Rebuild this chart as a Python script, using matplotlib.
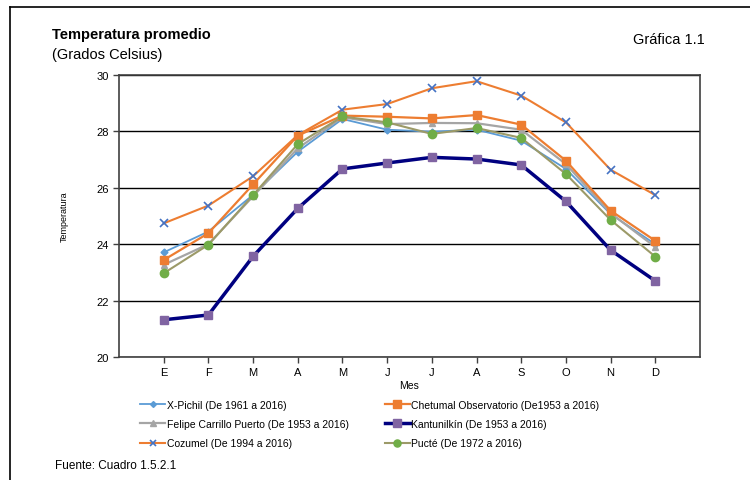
import numpy as np
import matplotlib.pyplot as plt
from matplotlib.lines import Line2D

plt.rcParams['font.family'] = ['Liberation Sans', 'DejaVu Sans']

meses = ['E', 'F', 'M', 'A', 'M', 'J', 'J', 'A', 'S', 'O', 'N', 'D']

x_pichil = [23.71, 24.45, 25.75, 27.28, 28.44, 28.06, 27.99, 28.06, 27.67, 26.67, 25.07, 24.0]
chetumal = [23.44, 24.39, 26.12, 27.85, 28.56, 28.52, 28.46, 28.58, 28.24, 26.96, 25.19, 24.12]
felipe = [23.27, 24.0, 25.7, 27.4, 28.5, 28.26, 28.30, 28.29, 28.06, 26.84, 25.1, 23.9]
kantunilkin = [21.32, 21.49, 23.57, 25.27, 26.67, 26.88, 27.08, 27.02, 26.81, 25.52, 23.79, 22.70]
cozumel = [24.74, 25.37, 26.41, 27.87, 28.77, 28.97, 29.53, 29.78, 29.27, 28.32, 26.64, 25.74]
pucte = [22.97, 23.98, 25.74, 27.55, 28.53, 28.32, 27.91, 28.12, 27.77, 26.49, 24.86, 23.56]

x = np.arange(1, 13)

fig = plt.figure(figsize=(7.5, 4.81), dpi=100)
ax = fig.add_axes([0.1587, 0.2557, 0.7746, 0.5863])

ax.plot(x, x_pichil, color='#5B9BD5', lw=1.3, marker='D', ms=3.5,
        label='X-Pichil (De 1961 a 2016)')
ax.plot(x, felipe, color='#A5A5A5', lw=1.6, marker='^', ms=5,
        label='Felipe Carrillo Puerto (De 1953 a 2016)')
ax.plot(x, cozumel, color='#ED7D31', lw=1.5, marker='x', ms=5.5, mew=1.2,
        mec='#4472C4', label='Cozumel (De 1994 a 2016)')
ax.plot(x, chetumal, color='#ED7D31', lw=1.6, marker='s', ms=6,
        label='Chetumal Observatorio (De1953 a 2016)')
ax.plot(x, kantunilkin, color='#000080', lw=2.5, marker='s', ms=6,
        mfc='#8064A2', mec='#8064A2', label='Kantunilkín (De 1953 a 2016)')
ax.plot(x, pucte, color='#9C9A68', lw=1.5, marker='o', ms=6,
        mfc='#70AD47', mec='#70AD47', label='Pucté (De 1972 a 2016)')

ax.set_xlim(0, 13)
ax.set_ylim(20, 30)
ax.set_xticks(x)
ax.set_xticklabels(meses)
ax.set_yticks(np.arange(20, 31, 2))
ax.tick_params(labelsize=8, length=4, width=1, color='#404040')
ax.yaxis.grid(True, color='black', lw=1)
ax.set_axisbelow(True)
for s in ax.spines.values():
    s.set_color('#404040')
    s.set_linewidth(1.2)

ax.set_xlabel('Mes', fontsize=7.5, labelpad=2)
ax.set_ylabel('Temperatura', fontsize=6.5, labelpad=20)

fig.text(0.069, 0.927, 'Temperatura promedio', fontsize=10.5,
         fontweight='bold', va='center')
fig.text(0.069, 0.886, '(Grados Celsius)', fontsize=10.5, va='center')
fig.text(0.844, 0.917, 'Gráfica 1.1', fontsize=10.5, va='center')
fig.text(0.073, 0.031, 'Fuente: Cuadro 1.5.2.1', fontsize=8.5, va='center')

leg = fig.legend(loc='upper left', bbox_to_anchor=(0.18, 0.178), ncol=2,
                 fontsize=7.5, frameon=False, handlelength=2.4,
                 handletextpad=0.15, columnspacing=3.45, labelspacing=0.9,
                 borderpad=0, markerscale=0.85)

# marco exterior
fig.add_artist(Line2D([0.013, 0.013], [0, 0.984], color='black', lw=1.2))
fig.add_artist(Line2D([0.013, 1], [0.984, 0.984], color='black', lw=1.2))

fig.savefig('out.png', dpi=100)
